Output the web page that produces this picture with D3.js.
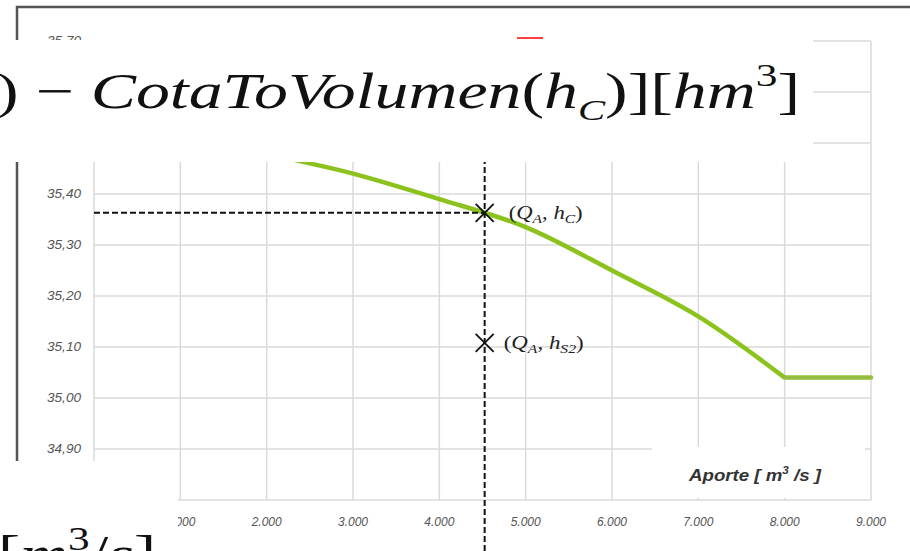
<!DOCTYPE html>
<html>
<head>
<meta charset="utf-8">
<script src="https://cdn.jsdelivr.net/npm/d3@7"></script>
<style>
  body { margin: 0; background: #fff; }
  svg { display: block; }
  .tick-label { font-family: "Liberation Sans", Arial, sans-serif; font-style: italic; font-size: 12px; fill: #555; }
  .math { font-family: "Liberation Serif", "DejaVu Serif", serif; }
</style>
</head>
<body>
<svg id="chart"></svg>
<script>
// values
var aporte = [0, 1000, 2000, 3000, 4000, 5000, 6000, 7000, 8000, 9000];
var cota = [35.58, 35.53, 35.48, 35.44, 35.39, 35.335, 35.25, 35.16, 35.04, 35.04];
var xTicks = [1000, 2000, 3000, 4000, 5000, 6000, 7000, 8000, 9000];
var yTicks = [34.80, 34.90, 35.00, 35.10, 35.20, 35.30, 35.40, 35.50, 35.60, 35.70];
var qA = 4525, hC = 35.363, hS2 = 35.108;

var W = 910, H = 551;
var svg = d3.select("#chart").attr("width", W).attr("height", H);

var locale = d3.formatLocale({ decimal: ",", thousands: ".", grouping: [3] });
var fx = locale.format(",d"), fy = locale.format(".2f");

// set the ranges
var x = d3.scaleLinear().domain([0, 9000]).range([94, 871]);
var y = d3.scaleLinear().domain([34.80, 35.70]).range([500, 41]);

var data = aporte.map(function (a, i) { return { x: a, y: cota[i] }; });

// outer screenshot frame
svg.append("path")
    .attr("d", "M17,461 L17,7 L910,7")
    .attr("fill", "none").attr("stroke", "#555").attr("stroke-width", 2.5);

// grid
var grid = svg.append("g");
grid.selectAll("line.h").data(yTicks).enter().append("line")
    .attr("x1", x(0)).attr("x2", x(9000))
    .attr("y1", function (d) { return y(d); }).attr("y2", function (d) { return y(d); })
    .attr("stroke", "#dadada").attr("stroke-width", 1.5);
grid.selectAll("line.v").data([0].concat(xTicks)).enter().append("line")
    .attr("x1", function (d) { return x(d); }).attr("x2", function (d) { return x(d); })
    .attr("y1", y(35.70)).attr("y2", y(34.80))
    .attr("stroke", "#dadada").attr("stroke-width", 1.5);

// axis labels
svg.selectAll("text.yl").data(yTicks).enter().append("text")
    .attr("class", "tick-label")
    .attr("x", 81).attr("y", function (d) { return y(d) + 4; })
    .attr("text-anchor", "end")
    .attr("textLength", 34).attr("lengthAdjust", "spacingAndGlyphs")
    .text(function (d) { return fy(d); });
svg.selectAll("text.xl").data(xTicks).enter().append("text")
    .attr("class", "tick-label")
    .attr("x", function (d) { return x(d); }).attr("y", 526)
    .attr("text-anchor", "middle")
    .text(function (d) { return fx(d); });

// red mark at the top
svg.append("line")
    .attr("x1", 517).attr("x2", 543).attr("y1", 38).attr("y2", 38)
    .attr("stroke", "#ff4040").attr("stroke-width", 2);

// the curve: smooth down to 8.000, then flat
var smooth = d3.line()
    .x(function (d) { return x(d.x); })
    .y(function (d) { return y(d.y); })
    .curve(d3.curveMonotoneX);
var flat = d3.line()
    .x(function (d) { return x(d.x); })
    .y(function (d) { return y(d.y); });
svg.append("path")
    .datum(data.slice(0, 9))
    .attr("d", smooth)
    .attr("fill", "none").attr("stroke", "#8cc21e").attr("stroke-width", 4.5);
svg.append("path")
    .datum(data.slice(8))
    .attr("d", flat)
    .attr("fill", "none").attr("stroke", "#93bd3c").attr("stroke-width", 4.5)
    .attr("stroke-linecap", "round");

// crosshair
svg.append("line")
    .attr("x1", x(qA)).attr("x2", x(qA)).attr("y1", 41).attr("y2", H)
    .attr("stroke", "#111").attr("stroke-width", 2).attr("stroke-dasharray", "6,3");
svg.append("line")
    .attr("x1", x(0)).attr("x2", x(qA)).attr("y1", y(hC)).attr("y2", y(hC))
    .attr("stroke", "#111").attr("stroke-width", 2).attr("stroke-dasharray", "6,3");

function cross(cx, cy) {
    var s = 9;
    svg.append("path")
        .attr("d", "M" + (cx - s) + "," + (cy - s) + "L" + (cx + s) + "," + (cy + s) +
            "M" + (cx - s) + "," + (cy + s) + "L" + (cx + s) + "," + (cy - s))
        .attr("stroke", "#111").attr("stroke-width", 1.8);
}
cross(x(qA), y(hC));
cross(x(qA), y(hS2));

function pointLabel(px, py, sub, len) {
    var t = svg.append("text").attr("class", "math")
        .attr("x", px).attr("y", py).attr("font-size", 19).attr("fill", "#222")
        .attr("textLength", len).attr("lengthAdjust", "spacingAndGlyphs");
    t.append("tspan").text("(");
    t.append("tspan").attr("font-style", "italic").text("Q");
    t.append("tspan").attr("font-style", "italic").attr("font-size", 13).attr("dy", 4).text("A");
    t.append("tspan").attr("dy", -4).text(", ");
    t.append("tspan").attr("font-style", "italic").text("h");
    t.append("tspan").attr("font-style", "italic").attr("font-size", 13).attr("dy", 4).text(sub);
    t.append("tspan").attr("dy", -4).text(")");
}
pointLabel(x(qA) + 24, y(hC) + 6, "C", 74);
pointLabel(x(qA) + 19, y(hS2) + 6, "S2", 80);

// pasted white boxes
svg.append("rect").attr("x", 0).attr("y", 40).attr("width", 813).attr("height", 122).attr("fill", "#fff");
svg.append("rect").attr("x", 0).attr("y", 461).attr("width", 178).attr("height", 90).attr("fill", "#fff");
svg.append("rect").attr("x", 652).attr("y", 447).attr("width", 213).attr("height", 51).attr("fill", "#fff");

// x axis title
var at = svg.append("text")
    .attr("x", 755).attr("y", 481)
    .attr("text-anchor", "middle")
    .attr("font-family", "Liberation Sans, Arial, sans-serif")
    .attr("font-style", "italic").attr("font-weight", "bold")
    .attr("font-size", 16).attr("fill", "#333")
    .attr("textLength", 132).attr("lengthAdjust", "spacingAndGlyphs");
at.append("tspan").text("Aporte [ m");
at.append("tspan").attr("font-size", 10).attr("dy", -7).text("3");
at.append("tspan").attr("dy", 7).text(" /s ]");

// big formula on the top
var f = svg.append("text").attr("class", "math")
    .attr("x", -4).attr("y", 108)
    .attr("font-size", 50).attr("fill", "#111")
    .attr("textLength", 804).attr("lengthAdjust", "spacingAndGlyphs");
f.append("tspan").text(") \u2212 ");
f.append("tspan").attr("font-style", "italic").text("CotaToVolumen");
f.append("tspan").text("(");
f.append("tspan").attr("font-style", "italic").text("h");
f.append("tspan").attr("font-style", "italic").attr("font-size", 30).attr("dy", 12).text("C");
f.append("tspan").attr("dy", -12).text(")][");
f.append("tspan").attr("font-style", "italic").text("hm");
f.append("tspan").attr("font-size", 32).attr("dy", -22).text("3");
f.append("tspan").attr("dy", 22).text("]");

// big formula at bottom left
var g = svg.append("text").attr("class", "math")
    .attr("x", -2).attr("y", 572)
    .attr("font-size", 52).attr("fill", "#111")
    .attr("textLength", 158).attr("lengthAdjust", "spacingAndGlyphs");
g.append("tspan").text("[");
g.append("tspan").attr("font-style", "italic").text("m");
g.append("tspan").attr("font-size", 34).attr("dy", -22).text("3");
g.append("tspan").attr("dy", 22).text("/");
g.append("tspan").attr("font-style", "italic").text("s");
g.append("tspan").text("]");
</script>
</body>
</html>
